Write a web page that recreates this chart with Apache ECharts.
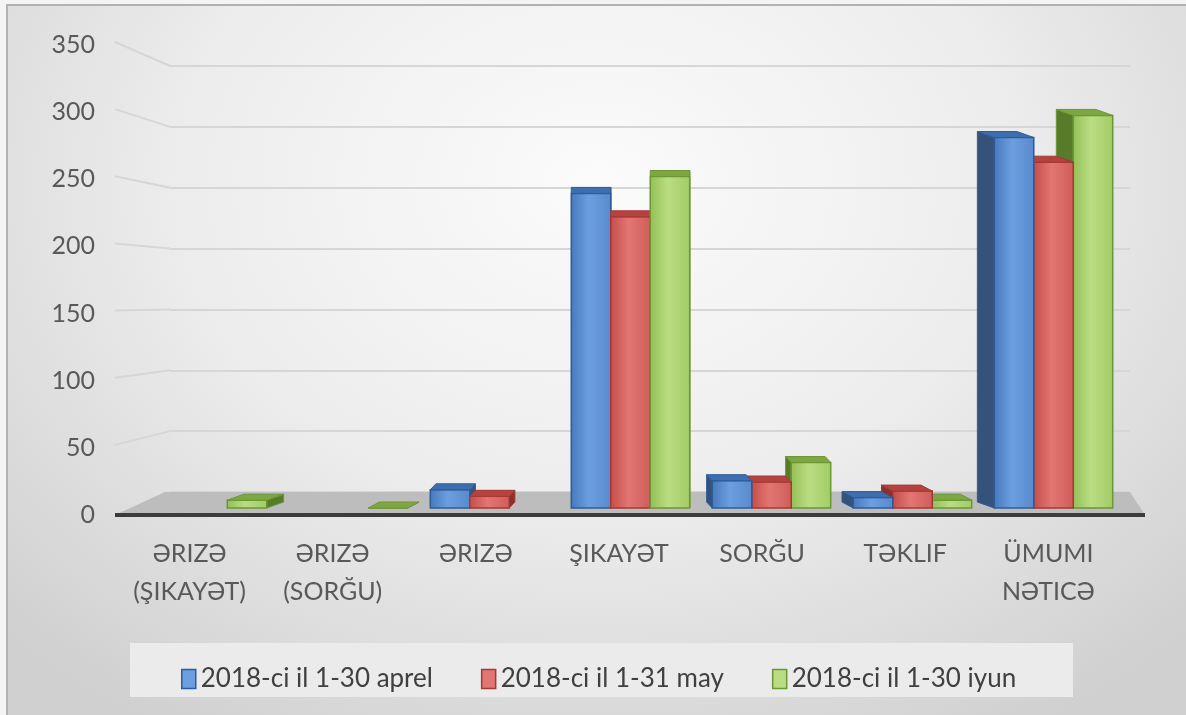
<!DOCTYPE html>
<html>
<head>
<meta charset="utf-8">
<script src="https://cdn.jsdelivr.net/npm/echarts@6/dist/echarts.min.js"></script>
<style>
	html, body { margin: 0; padding: 0; background: #f4f4f4; }
	#bg {
		position: absolute; left: 6px; top: 4px; width: 1180px; height: 711px;
		border-left: 2px solid #b2b2b2; border-top: 2px solid #b2b2b2; box-sizing: border-box;
		background: radial-gradient(ellipse 70% 90% at 50% 25%, #fbfbfb 0%, #ededed 50%, #d0d0d0 100%);
	}
	#chart { position: absolute; left: 0; top: 0; width: 1186px; height: 715px; }
</style>
</head>
<body>
<div id="bg"></div>
<div id="chart"></div>
<script>
const categories = [ "ƏRIZƏ\n(ŞIKAYƏT)", "ƏRIZƏ\n(SORĞU)", "ƏRIZƏ", "ŞIKAYƏT", "SORĞU", "TƏKLIF", "ÜMUMI\nNƏTICƏ" ];
const seriesNames = [ "2018-ci il 1-30 aprel", "2018-ci il 1-31 may", "2018-ci il 1-30 iyun" ];
const aprel = [ null, null, 14, 242, 21, 8, 285 ];
const may = [ null, null, 9, 224, 20, 13, 266 ];
const iyun = [ 6, 0, null, 255, 35, 6, 302 ];
const yTicks = [ 0, 50, 100, 150, 200, 250, 300, 350 ];

const FONT = "Lato, 'Noto Sans', sans-serif";
const TEXT = "#595959";

// front gradient stops, top face, side face, edge
const palette = [
	{ front: [ "#4678bd", "#6b9fe0", "#5889cc" ], top: "#3d6eb0", side: "#34527a", edge: "#2e5c99" },
	{ front: [ "#c44c48", "#e27672", "#cf5d59" ], top: "#b6423e", side: "#8a302d", edge: "#a33935" },
	{ front: [ "#93be55", "#badd83", "#a2cb66" ], top: "#7ea743", side: "#587a2b", edge: "#6b9834" }
];

function renderBar( s ) {
	const c = palette[ s ];
	return function ( params, api ) {
		const v = api.value( 1 );
		if ( v == null || isNaN( v ) ) {
			return null;
		}
		const idx = api.value( 0 );
		const base = api.coord( [ idx, 0 ] );
		const top = api.coord( [ idx, v ] );
		const band = api.size( [ 1, 0 ] )[ 0 ];
		const w = band * 0.28;
		const x0 = base[ 0 ] + ( s - 1.5 ) * w;
		const x1 = x0 + w;
		const cs = params.coordSys;
		const dx = ( cs.x + cs.width / 2 - base[ 0 ] ) * 0.04;
		const dy = 6;
		const yT = top[ 1 ];
		const yB = base[ 1 ];
		const left = base[ 0 ] > cs.x + cs.width / 2;
		const order = left ? 2 - s : s;
		const sx = dx < 0 ? x0 : x1;
		const grad = new echarts.graphic.LinearGradient( 0, 0, 1, 0, [
			{ offset: 0, color: c.front[ 0 ] },
			{ offset: 0.45, color: c.front[ 1 ] },
			{ offset: 1, color: c.front[ 2 ] }
		] );
		return {
			type: "group",
			children: [
				{
					type: "polygon",
					z2: 0,
					shape: { points: [ [ sx, yT ], [ sx + dx, yT - dy ], [ sx + dx, yB - dy ], [ sx, yB ] ] },
					style: { fill: c.side, stroke: c.edge, lineWidth: 1 }
				},
				{
					type: "rect",
					z2: 10 + order,
					shape: { x: x0, y: yT, width: w, height: yB - yT },
					style: { fill: grad, stroke: c.edge, lineWidth: 1.5 }
				},
				{
					type: "polygon",
					z2: 10 + order,
					shape: { points: [ [ x0, yT ], [ x1, yT ], [ x1 + dx, yT - dy ], [ x0 + dx, yT - dy ] ] },
					style: { fill: c.top, stroke: c.edge, lineWidth: 1 }
				}
			]
		};
	};
}

const chart = echarts.init( document.getElementById( "chart" ) );

const valueData = [ aprel, may, iyun ];

chart.setOption( {
	animation: false,
	textStyle: { fontFamily: FONT },
	grid: [
		{ left: 118, right: 66, top: 45, bottom: 200 },
		{ left: 170, right: 56, top: 66, bottom: 223 },
		{ left: 137, right: 62, top: 53, bottom: 207 }
	],
	xAxis: [
		{
			type: "category", gridIndex: 0, data: categories,
			axisLine: { show: false }, axisTick: { show: false },
			axisLabel: { color: TEXT, fontSize: 25, lineHeight: 38, margin: 20, fontFamily: FONT, interval: 0 }
		},
		{ type: "category", gridIndex: 1, data: categories, show: false },
		{ type: "category", gridIndex: 2, data: categories, show: false }
	],
	yAxis: [
		{
			type: "value", gridIndex: 0, min: 0, max: 350, interval: 50,
			axisLine: { show: false }, axisTick: { show: false }, splitLine: { show: false },
			axisLabel: { color: TEXT, fontSize: 25, margin: 23, fontFamily: FONT }
		},
		{
			type: "value", gridIndex: 1, min: 0, max: 350, interval: 50,
			axisLine: { show: false }, axisTick: { show: false }, axisLabel: { show: false },
			splitLine: { lineStyle: { color: "#d6d6d6", width: 2 } }
		},
		{ type: "value", gridIndex: 2, min: 0, max: 350, show: false }
	],
	legend: {
		left: 176,
		top: 661,
		itemWidth: 14,
		itemHeight: 19,
		itemGap: 48,
		icon: "rect",
		textStyle: { color: "#404040", fontSize: 26, fontFamily: FONT },
		data: seriesNames.map( ( n, i ) => ( {
			name: n,
			itemStyle: { color: palette[ i ].front[ 1 ], borderColor: palette[ i ].edge, borderWidth: 1.5 }
		} ) )
	},
	series: seriesNames.map( ( n, s ) => ( {
		type: "custom",
		name: n,
		xAxisIndex: 2,
		yAxisIndex: 2,
		z: 3,
		itemStyle: { color: palette[ s ].front[ 1 ] },
		renderItem: renderBar( s ),
		data: valueData[ s ].map( ( v, i ) => [ i, v ] )
	} ) )
} );

// floor, front edge, gridline slants and legend box
const gl = chart.getModel().getComponent( "grid", 1 ).coordinateSystem.getRect();
const frontY = chart.convertToPixel( { yAxisIndex: 0 }, 0 );
const backY = chart.convertToPixel( { yAxisIndex: 1 }, 0 );
const floorL = 115;
const floorR = 1145;
const graphics = [
	{
		type: "rect", z: 0, silent: true,
		shape: { x: 130, y: 643, width: 943, height: 54 },
		style: { fill: "#ebebeb" }
	},
	{
		type: "polygon", z: 1, silent: true,
		shape: { points: [ [ floorL, frontY ], [ gl.x - 5, backY ], [ gl.x + gl.width, backY ], [ floorR, frontY ] ] },
		style: { fill: "#bdbdbd" }
	},
	{
		type: "line", z: 1, silent: true,
		shape: { x1: floorL, y1: frontY, x2: floorR, y2: frontY },
		style: { stroke: "#3c3c3c", lineWidth: 4 }
	}
];
yTicks.forEach( t => {
	if ( t === 0 ) {
		return;
	}
	const a = chart.convertToPixel( { yAxisIndex: 0 }, t );
	const b = chart.convertToPixel( { yAxisIndex: 1 }, t );
	graphics.push( {
		type: "line", z: 0, silent: true,
		shape: { x1: 115, y1: a - 3, x2: gl.x, y2: b },
		style: { stroke: "#d6d6d6", lineWidth: 2 }
	} );
} );
chart.setOption( { graphic: graphics } );
</script>
</body>
</html>
